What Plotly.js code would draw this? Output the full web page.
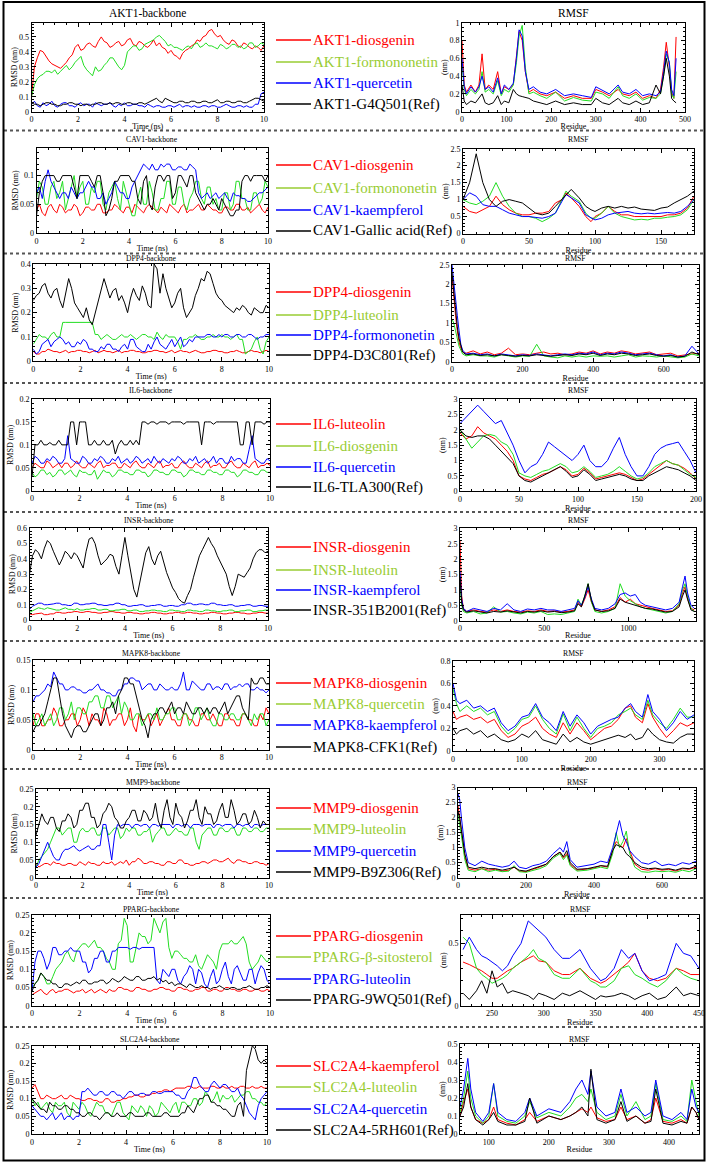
<!DOCTYPE html>
<html>
<head>
<meta charset="utf-8">
<script src="https://cdn.plot.ly/plotly-3.0.1.min.js"></script>
<style>
  html, body { margin: 0; padding: 0; background: #fff; }
  #chart { width: 709px; height: 1164px; }
</style>
</head>
<body>
<div id="chart"></div>
<script>
// ---- simulation time grid (ns), one sample every 0.125 ns ----
const time = Array.from({ length: 81 }, (_, i) => i * 0.125);

// ================= AKT1 =================
const akt1Ligands = ['AKT1-diosgenin', 'AKT1-formononetin', 'AKT1-quercetin', 'AKT1-G4Q501(Ref)'];
const akt1RmsdDiosgenin = [0.10,0.30,0.36,0.41,0.40,0.37,0.34,0.32,0.31,0.30, 0.29,0.31,0.33,0.36,0.38,0.43,0.45,0.41,0.42,0.45, 0.46,0.44,0.43,0.47,0.50,0.47,0.46,0.43,0.44,0.46, 0.47,0.44,0.45,0.48,0.49,0.45,0.44,0.47,0.46,0.44, 0.43,0.45,0.48,0.44,0.46,0.43,0.42,0.39,0.41,0.38, 0.37,0.35,0.39,0.41,0.42,0.44,0.45,0.48,0.47,0.50, 0.51,0.54,0.55,0.52,0.50,0.51,0.48,0.46,0.45,0.48, 0.47,0.44,0.43,0.46,0.45,0.43,0.42,0.44,0.43,0.41, 0.44];
const akt1RmsdFormononetin = [0.10,0.18,0.22,0.24,0.25,0.27,0.27,0.26,0.28,0.25, 0.27,0.29,0.31,0.28,0.30,0.33,0.35,0.37,0.31,0.28, 0.26,0.24,0.30,0.27,0.28,0.31,0.33,0.36,0.36,0.33, 0.30,0.28,0.31,0.40,0.42,0.44,0.44,0.41,0.42,0.45, 0.46,0.47,0.48,0.50,0.51,0.49,0.47,0.44,0.45,0.43, 0.43,0.42,0.41,0.43,0.44,0.42,0.45,0.46,0.43,0.44, 0.46,0.44,0.44,0.43,0.42,0.45,0.44,0.42,0.43,0.45, 0.45,0.43,0.44,0.42,0.43,0.46,0.46,0.43,0.44,0.46, 0.45];
const akt1RmsdQuercetin = [0.05,0.07,0.04,0.03,0.06,0.04,0.05,0.07,0.04,0.03, 0.05,0.06,0.06,0.04,0.04,0.03,0.05,0.06,0.04,0.05, 0.05,0.03,0.06,0.05,0.04,0.05,0.05,0.06,0.04,0.03, 0.05,0.04,0.06,0.04,0.04,0.05,0.05,0.04,0.04,0.03, 0.05,0.04,0.03,0.04,0.04,0.03,0.03,0.04,0.04,0.03, 0.04,0.05,0.03,0.04,0.04,0.03,0.04,0.03,0.03,0.04, 0.04,0.03,0.04,0.04,0.03,0.03,0.04,0.05,0.04,0.03, 0.03,0.04,0.04,0.03,0.04,0.03,0.03,0.05,0.05,0.12, 0.13];
const akt1RmsdRef = [0.06,0.05,0.05,0.04,0.05,0.06,0.06,0.05,0.05,0.04, 0.04,0.05,0.05,0.06,0.06,0.05,0.05,0.04,0.05,0.05, 0.04,0.05,0.05,0.06,0.06,0.05,0.05,0.06,0.05,0.06, 0.06,0.05,0.05,0.06,0.06,0.05,0.05,0.06,0.06,0.05, 0.06,0.07,0.08,0.09,0.07,0.06,0.09,0.08,0.07,0.06, 0.06,0.07,0.07,0.06,0.06,0.07,0.07,0.06,0.06,0.07, 0.07,0.06,0.06,0.07,0.08,0.06,0.06,0.07,0.07,0.06, 0.06,0.07,0.07,0.06,0.06,0.07,0.08,0.09,0.09,0.08, 0.07];
const akt1Residue = [0,5,10,20,30,38,45,52,60,70,80,88,95,105,115,122,128,135,142,150,160,175,190,210,230,250,270,290,300,315,330,350,360,375,390,405,420,435,445,452,458,465,470,475,480];
const akt1RmsfDiosgenin = [0.80,0.30,0.22,0.30,0.22,0.30,0.65,0.25,0.30,0.25,0.45,0.20,0.28,0.25,0.30,0.60,0.90,0.80,0.45,0.22,0.25,0.20,0.18,0.22,0.15,0.18,0.15,0.15,0.25,0.22,0.18,0.25,0.20,0.18,0.22,0.15,0.18,0.15,0.25,0.50,0.78,0.50,0.22,0.15,0.84];
const akt1RmsfFormononetin = [0.55,0.25,0.18,0.25,0.20,0.25,0.45,0.22,0.25,0.20,0.35,0.18,0.25,0.22,0.30,0.55,0.85,0.97,0.50,0.20,0.22,0.18,0.15,0.22,0.12,0.16,0.13,0.12,0.22,0.20,0.15,0.28,0.18,0.15,0.20,0.13,0.16,0.15,0.20,0.40,0.65,0.55,0.20,0.15,0.45];
const akt1RmsfQuercetin = [0.60,0.28,0.20,0.28,0.22,0.28,0.40,0.25,0.28,0.22,0.38,0.20,0.30,0.25,0.32,0.60,0.92,0.85,0.45,0.25,0.28,0.22,0.20,0.25,0.18,0.20,0.18,0.16,0.28,0.24,0.20,0.30,0.22,0.20,0.25,0.18,0.20,0.18,0.22,0.45,0.68,0.55,0.25,0.18,0.60];
const akt1RmsfRef = [0.30,0.12,0.08,0.12,0.10,0.15,0.20,0.10,0.08,0.10,0.18,0.08,0.12,0.10,0.25,0.20,0.18,0.17,0.16,0.15,0.12,0.10,0.08,0.12,0.08,0.10,0.08,0.08,0.15,0.10,0.08,0.15,0.10,0.08,0.12,0.08,0.10,0.30,0.20,0.40,0.60,0.40,0.15,0.12,0.10];

// ================= CAV1 =================
const cav1Ligands = ['CAV1-diosgenin', 'CAV1-formononetin', 'CAV1-kaempferol', 'CAV1-Gallic acid(Ref)'];
const cav1RmsdDiosgenin = [0.04,0.05,0.035,0.03,0.045,0.05,0.04,0.035,0.05,0.045, 0.035,0.04,0.04,0.05,0.045,0.03,0.035,0.045,0.045,0.04, 0.04,0.05,0.05,0.035,0.035,0.04,0.04,0.05,0.045,0.04, 0.035,0.045,0.045,0.035,0.05,0.045,0.04,0.035,0.045,0.05, 0.045,0.04,0.035,0.045,0.04,0.035,0.05,0.045,0.04,0.035, 0.045,0.05,0.035,0.04,0.04,0.045,0.05,0.04,0.04,0.05, 0.045,0.04,0.04,0.035,0.035,0.045,0.045,0.04,0.04,0.05, 0.05,0.04,0.04,0.045,0.035,0.04,0.045,0.05,0.04,0.035, 0.045];
const cav1RmsdFormononetin = [0.06,0.09,0.08,0.05,0.05,0.08,0.09,0.06,0.07,0.09, 0.04,0.06,0.08,0.10,0.06,0.08,0.09,0.05,0.05,0.08, 0.07,0.09,0.09,0.05,0.04,0.07,0.08,0.09,0.06,0.04, 0.09,0.07,0.05,0.03,0.03,0.06,0.08,0.05,0.05,0.09, 0.07,0.04,0.04,0.06,0.06,0.09,0.09,0.05,0.05,0.08, 0.08,0.05,0.04,0.06,0.07,0.09,0.09,0.06,0.05,0.08, 0.08,0.05,0.06,0.04,0.04,0.07,0.07,0.04,0.05,0.09, 0.09,0.06,0.06,0.04,0.04,0.07,0.07,0.05,0.06,0.09, 0.08];
const cav1RmsdKaempferol = [0.07,0.08,0.06,0.09,0.11,0.09,0.08,0.07,0.06,0.07, 0.07,0.06,0.08,0.07,0.06,0.07,0.07,0.08,0.09,0.08, 0.08,0.06,0.06,0.07,0.05,0.06,0.07,0.09,0.08,0.07, 0.07,0.06,0.06,0.08,0.09,0.10,0.11,0.12,0.115,0.11, 0.12,0.11,0.11,0.12,0.115,0.12,0.12,0.11,0.11,0.115, 0.115,0.11,0.11,0.12,0.115,0.11,0.07,0.06,0.065,0.07, 0.06,0.065,0.07,0.06,0.065,0.07,0.06,0.055,0.07,0.065, 0.065,0.06,0.06,0.055,0.055,0.06,0.065,0.07,0.07,0.075, 0.08];
const cav1RmsdRef = [0.03,0.07,0.09,0.10,0.10,0.10,0.10,0.09,0.09,0.10, 0.10,0.10,0.10,0.08,0.06,0.10,0.10,0.10,0.10,0.09, 0.08,0.10,0.10,0.07,0.03,0.04,0.06,0.09,0.09,0.10, 0.10,0.10,0.10,0.09,0.09,0.06,0.05,0.09,0.10,0.05, 0.04,0.08,0.10,0.10,0.09,0.10,0.10,0.06,0.07,0.10, 0.10,0.09,0.08,0.10,0.10,0.07,0.06,0.05,0.04,0.05, 0.05,0.06,0.05,0.04,0.06,0.05,0.04,0.03,0.03,0.04, 0.04,0.09,0.10,0.10,0.09,0.10,0.10,0.10,0.10,0.09, 0.10];
const cav1Residue = [0,5,10,15,20,25,30,35,40,45,50,55,60,65,70,75,78,82,88,93,97,100,105,110,115,120,125,130,135,140,145,150,155,160,165,170,175];
const cav1RmsfDiosgenin = [0.80,0.65,0.60,0.70,0.80,1.10,0.85,0.70,0.60,0.55,0.55,0.60,0.60,0.65,0.90,1.00,1.20,1.05,0.80,0.50,0.35,0.50,0.60,0.80,0.65,0.55,0.55,0.50,0.50,0.52,0.50,0.50,0.55,0.55,0.60,0.75,1.10];
const cav1RmsfFormononetin = [1.00,0.90,0.85,0.95,1.10,1.50,1.10,0.80,0.60,0.50,0.50,0.45,0.35,0.45,0.60,1.00,1.25,1.10,0.95,0.60,0.45,0.45,0.60,0.80,0.60,0.50,0.45,0.40,0.42,0.40,0.45,0.45,0.48,0.50,0.55,0.70,1.00];
const cav1RmsfKaempferol = [1.00,1.20,1.10,0.85,0.80,0.80,0.70,0.60,0.55,0.50,0.50,0.48,0.45,0.50,0.60,0.95,1.15,1.05,0.90,0.55,0.45,0.40,0.45,0.55,0.60,0.62,0.65,0.60,0.58,0.60,0.58,0.60,0.62,0.60,0.65,0.80,1.00];
const cav1RmsfRef = [1.00,1.50,2.35,1.50,1.00,0.80,0.95,1.00,0.95,0.90,0.75,0.60,0.55,0.60,0.80,1.00,1.15,1.30,1.05,0.80,0.70,0.65,0.75,0.80,0.75,0.80,0.75,0.78,0.72,0.70,0.68,0.75,0.78,0.90,1.00,1.10,1.25];

// ================= DPP4 =================
const dpp4Ligands = ['DPP4-diosgenin', 'DPP4-luteolin', 'DPP4-formononetin', 'DPP4-D3C801(Ref)'];
const dpp4RmsdDiosgenin = [0.04,0.03,0.03,0.04,0.04,0.05,0.045,0.04,0.04,0.035, 0.04,0.045,0.035,0.04,0.04,0.045,0.045,0.04,0.04,0.035, 0.04,0.045,0.035,0.04,0.045,0.04,0.04,0.035,0.04,0.045, 0.035,0.04,0.04,0.045,0.045,0.04,0.04,0.035,0.035,0.04, 0.04,0.045,0.045,0.04,0.04,0.035,0.04,0.045,0.035,0.04, 0.045,0.04,0.04,0.035,0.04,0.045,0.04,0.035,0.035,0.04, 0.04,0.045,0.045,0.04,0.04,0.035,0.035,0.04,0.04,0.045, 0.04,0.035,0.035,0.04,0.045,0.04,0.04,0.035,0.04,0.045, 0.04];
const dpp4RmsdLuteolin = [0.07,0.09,0.11,0.10,0.10,0.09,0.11,0.12,0.10,0.10, 0.16,0.16,0.16,0.16,0.16,0.16,0.16,0.16,0.16,0.16, 0.16,0.11,0.11,0.09,0.10,0.11,0.10,0.09,0.09,0.10, 0.11,0.10,0.10,0.11,0.10,0.09,0.10,0.11,0.11,0.10, 0.10,0.09,0.12,0.10,0.09,0.11,0.10,0.10,0.10,0.08, 0.05,0.09,0.09,0.10,0.10,0.11,0.10,0.09,0.09,0.10, 0.10,0.11,0.10,0.10,0.11,0.10,0.10,0.09,0.10,0.11, 0.09,0.09,0.03,0.04,0.05,0.08,0.10,0.05,0.03,0.08, 0.10];
const dpp4RmsdFormononetin = [0.05,0.03,0.04,0.07,0.08,0.09,0.06,0.08,0.09,0.10, 0.09,0.07,0.08,0.06,0.06,0.08,0.07,0.09,0.08,0.05, 0.05,0.04,0.04,0.06,0.05,0.07,0.07,0.05,0.05,0.04, 0.06,0.07,0.05,0.09,0.09,0.06,0.05,0.04,0.04,0.07, 0.05,0.08,0.10,0.07,0.06,0.05,0.07,0.09,0.06,0.08, 0.10,0.06,0.07,0.09,0.08,0.10,0.10,0.10,0.10,0.11, 0.11,0.10,0.10,0.11,0.10,0.11,0.11,0.10,0.10,0.11, 0.11,0.10,0.10,0.11,0.11,0.10,0.09,0.10,0.10,0.11, 0.11];
const dpp4RmsdRef = [0.25,0.27,0.28,0.31,0.32,0.28,0.26,0.29,0.30,0.25, 0.22,0.28,0.34,0.30,0.24,0.22,0.20,0.18,0.22,0.17, 0.15,0.20,0.24,0.30,0.34,0.30,0.26,0.29,0.30,0.25, 0.27,0.24,0.20,0.26,0.30,0.27,0.25,0.31,0.28,0.23, 0.22,0.40,0.38,0.28,0.36,0.30,0.26,0.22,0.24,0.28, 0.30,0.22,0.18,0.20,0.22,0.27,0.30,0.34,0.33,0.37, 0.36,0.32,0.28,0.26,0.25,0.23,0.22,0.21,0.20,0.22, 0.21,0.23,0.22,0.20,0.19,0.22,0.21,0.20,0.20,0.23, 0.22];
const dpp4Residue = [0,5,10,15,20,25,30,40,60,80,100,120,140,160,180,200,220,240,260,280,300,320,340,360,380,400,420,440,460,480,500,520,540,560,580,600,620,640,660,680,700];
const dpp4RmsfDiosgenin = [2.20,1.60,1.20,0.80,0.50,0.35,0.25,0.22,0.28,0.20,0.25,0.18,0.22,0.35,0.18,0.20,0.18,0.22,0.25,0.20,0.22,0.18,0.20,0.25,0.22,0.28,0.20,0.25,0.22,0.28,0.25,0.20,0.22,0.25,0.18,0.20,0.22,0.15,0.18,0.20,0.22];
const dpp4RmsfLuteolin = [1.10,1.00,0.80,0.60,0.40,0.30,0.20,0.15,0.18,0.15,0.15,0.12,0.18,0.15,0.12,0.15,0.14,0.45,0.15,0.12,0.10,0.15,0.12,0.15,0.12,0.15,0.14,0.15,0.12,0.15,0.18,0.12,0.15,0.14,0.12,0.15,0.12,0.10,0.12,0.20,0.15];
const dpp4RmsfFormononetin = [2.50,2.00,1.50,1.20,0.80,0.45,0.30,0.20,0.22,0.18,0.20,0.15,0.20,0.18,0.15,0.18,0.16,0.20,0.18,0.15,0.18,0.20,0.18,0.22,0.20,0.25,0.18,0.22,0.20,0.25,0.22,0.18,0.20,0.22,0.18,0.15,0.18,0.12,0.15,0.40,0.20];
const dpp4RmsfRef = [2.30,1.80,1.30,0.90,0.60,0.40,0.25,0.18,0.20,0.16,0.18,0.15,0.18,0.16,0.14,0.16,0.15,0.18,0.16,0.14,0.16,0.18,0.16,0.20,0.18,0.22,0.16,0.20,0.18,0.22,0.20,0.16,0.18,0.20,0.16,0.14,0.16,0.12,0.14,0.25,0.18];

// ================= IL6 =================
const il6Ligands = ['IL6-luteolin', 'IL6-diosgenin', 'IL6-quercetin', 'IL6-TLA300(Ref)'];
const il6RmsdLuteolin = [0.05,0.06,0.055,0.05,0.05,0.065,0.06,0.05,0.055,0.06, 0.05,0.06,0.06,0.05,0.055,0.065,0.055,0.05,0.05,0.06, 0.055,0.05,0.06,0.065,0.05,0.055,0.055,0.06,0.06,0.05, 0.05,0.06,0.055,0.05,0.06,0.065,0.055,0.05,0.05,0.06, 0.055,0.05,0.06,0.065,0.05,0.055,0.055,0.06,0.05,0.05, 0.06,0.065,0.055,0.05,0.05,0.06,0.055,0.05,0.06,0.065, 0.05,0.055,0.055,0.06,0.05,0.05,0.06,0.065,0.055,0.05, 0.05,0.06,0.055,0.05,0.06,0.065,0.05,0.055,0.055,0.06, 0.055];
const il6RmsdDiosgenin = [0.04,0.03,0.035,0.045,0.045,0.035,0.04,0.03,0.035,0.045, 0.045,0.035,0.04,0.045,0.035,0.03,0.045,0.04,0.04,0.035, 0.035,0.045,0.025,0.035,0.045,0.04,0.04,0.03,0.035,0.045, 0.045,0.04,0.04,0.035,0.035,0.045,0.045,0.04,0.04,0.03, 0.035,0.045,0.045,0.04,0.04,0.035,0.035,0.045,0.045,0.04, 0.04,0.03,0.035,0.045,0.045,0.04,0.04,0.035,0.035,0.045, 0.045,0.04,0.04,0.035,0.035,0.045,0.045,0.04,0.04,0.03, 0.035,0.045,0.045,0.04,0.04,0.035,0.035,0.045,0.045,0.04, 0.04];
const il6RmsdQuercetin = [0.06,0.075,0.07,0.06,0.06,0.07,0.065,0.075,0.07,0.06, 0.06,0.07,0.12,0.07,0.065,0.06,0.06,0.075,0.07,0.06, 0.06,0.07,0.065,0.075,0.07,0.06,0.06,0.07,0.065,0.075, 0.06,0.065,0.07,0.06,0.065,0.075,0.07,0.06,0.065,0.07, 0.06,0.075,0.065,0.06,0.07,0.065,0.06,0.07,0.065,0.075, 0.07,0.06,0.06,0.07,0.065,0.075,0.06,0.065,0.07,0.06, 0.065,0.075,0.06,0.07,0.07,0.06,0.06,0.075,0.065,0.07, 0.07,0.06,0.06,0.09,0.12,0.07,0.065,0.06,0.06,0.07, 0.065];
const il6RmsdRef = [0.03,0.10,0.10,0.11,0.10,0.10,0.105,0.10,0.10,0.11, 0.10,0.10,0.10,0.15,0.15,0.10,0.15,0.15,0.15,0.10, 0.10,0.11,0.10,0.10,0.11,0.10,0.10,0.11,0.08,0.10, 0.11,0.10,0.10,0.11,0.10,0.11,0.10,0.15,0.15,0.145, 0.15,0.15,0.145,0.15,0.15,0.15,0.145,0.15,0.15,0.15, 0.15,0.145,0.15,0.15,0.15,0.15,0.15,0.10,0.15,0.15, 0.15,0.145,0.15,0.15,0.15,0.15,0.15,0.15,0.15,0.15, 0.10,0.10,0.15,0.15,0.10,0.15,0.15,0.15,0.145,0.15, 0.15];
const il6Residue = [0,5,10,15,20,25,30,35,40,45,50,55,60,65,70,75,80,85,90,95,100,105,110,115,120,125,130,135,140,145,150,155,160,165,170,175,180,185,190,195,200];
const il6RmsfLuteolin = [1.90,1.70,1.80,2.10,1.90,1.80,1.70,1.50,1.30,1.00,0.50,0.40,0.35,0.45,0.55,0.60,0.70,0.80,0.70,0.50,0.55,0.75,0.60,0.40,0.45,0.50,0.55,0.60,0.55,0.45,0.35,0.40,0.55,0.70,0.85,1.00,0.90,0.85,0.75,0.60,0.40];
const il6RmsfDiosgenin = [2.00,1.70,1.40,1.60,1.80,1.85,1.80,1.60,1.50,1.20,0.60,0.50,0.45,0.55,0.65,0.70,0.80,0.90,0.80,0.60,0.65,0.80,0.65,0.45,0.50,0.55,0.65,0.80,0.65,0.50,0.40,0.45,0.60,0.80,0.90,1.00,0.90,0.85,0.70,0.55,0.45];
const il6RmsfQuercetin = [2.20,2.40,2.60,2.80,2.60,2.40,2.20,2.30,1.90,1.50,1.00,0.60,0.80,0.90,1.20,1.60,1.45,1.30,1.15,1.00,1.20,1.50,1.00,0.80,0.80,1.00,1.40,1.75,1.20,0.80,0.50,0.50,0.80,1.20,1.40,1.50,1.55,1.60,1.30,1.00,0.60];
const il6RmsfRef = [2.00,1.80,1.75,1.80,1.80,1.70,1.50,1.30,1.10,0.90,0.50,0.35,0.30,0.40,0.50,0.60,0.70,0.80,0.65,0.45,0.50,0.70,0.55,0.35,0.40,0.45,0.50,0.55,0.50,0.40,0.35,0.35,0.50,0.60,0.70,0.80,0.75,0.70,0.60,0.50,0.35];

// ================= INSR =================
const insrLigands = ['INSR-diosgenin', 'INSR-luteolin', 'INSR-kaempferol', 'INSR-351B2001(Ref)'];
const insrRmsdDiosgenin = [0.04,0.035,0.04,0.045,0.045,0.035,0.035,0.04,0.04,0.05, 0.05,0.045,0.045,0.05,0.05,0.055,0.055,0.05,0.05,0.055, 0.055,0.05,0.05,0.045,0.045,0.05,0.05,0.055,0.055,0.05, 0.05,0.045,0.045,0.05,0.05,0.045,0.045,0.04,0.04,0.045, 0.045,0.05,0.05,0.045,0.045,0.04,0.04,0.045,0.045,0.05, 0.05,0.045,0.045,0.05,0.05,0.045,0.045,0.04,0.04,0.045, 0.045,0.05,0.05,0.045,0.045,0.04,0.04,0.045,0.045,0.05, 0.05,0.045,0.045,0.04,0.04,0.045,0.045,0.05,0.05,0.045, 0.045];
const insrRmsdLuteolin = [0.05,0.06,0.07,0.08,0.075,0.07,0.08,0.075,0.07,0.065, 0.065,0.075,0.08,0.07,0.07,0.065,0.075,0.065,0.065,0.07, 0.07,0.075,0.075,0.065,0.065,0.07,0.07,0.06,0.06,0.065, 0.065,0.07,0.07,0.06,0.06,0.065,0.065,0.055,0.055,0.06, 0.06,0.065,0.065,0.06,0.06,0.055,0.055,0.065,0.065,0.06, 0.06,0.055,0.055,0.065,0.065,0.06,0.06,0.055,0.055,0.065, 0.065,0.06,0.06,0.055,0.055,0.06,0.06,0.065,0.065,0.055, 0.055,0.06,0.06,0.065,0.065,0.055,0.055,0.06,0.06,0.065, 0.065];
const insrRmsdKaempferol = [0.07,0.09,0.10,0.11,0.11,0.10,0.10,0.105,0.105,0.11, 0.11,0.10,0.10,0.095,0.095,0.11,0.11,0.10,0.10,0.105, 0.105,0.11,0.11,0.10,0.10,0.095,0.095,0.10,0.10,0.11, 0.11,0.10,0.10,0.09,0.09,0.095,0.095,0.10,0.10,0.09, 0.09,0.095,0.095,0.10,0.10,0.09,0.09,0.095,0.095,0.09, 0.09,0.10,0.10,0.11,0.11,0.10,0.10,0.105,0.105,0.10, 0.10,0.11,0.11,0.10,0.10,0.095,0.095,0.10,0.10,0.09, 0.09,0.095,0.095,0.10,0.10,0.09,0.09,0.095,0.095,0.09, 0.09];
const insrRmsdRef = [0.30,0.42,0.46,0.44,0.40,0.47,0.52,0.50,0.45,0.40, 0.36,0.40,0.45,0.43,0.40,0.44,0.42,0.38,0.34,0.45, 0.53,0.54,0.50,0.42,0.36,0.38,0.40,0.43,0.42,0.35, 0.30,0.42,0.54,0.42,0.30,0.20,0.15,0.25,0.35,0.44, 0.48,0.40,0.36,0.42,0.45,0.38,0.31,0.26,0.21,0.18, 0.14,0.12,0.11,0.16,0.20,0.28,0.35,0.42,0.46,0.50, 0.54,0.50,0.47,0.42,0.38,0.34,0.30,0.22,0.16,0.22, 0.30,0.29,0.28,0.31,0.34,0.40,0.44,0.46,0.46,0.44, 0.45];
const insrResidue = [0,10,20,40,80,120,160,200,240,280,320,360,400,440,480,520,560,600,640,680,700,720,740,760,780,800,840,880,920,950,980,1010,1040,1070,1100,1140,1180,1220,1260,1300,1320,1335,1350,1370,1390];
const insrRmsfDiosgenin = [2.60,0.80,0.40,0.30,0.35,0.30,0.28,0.35,0.30,0.35,0.30,0.28,0.32,0.30,0.35,0.30,0.32,0.28,0.30,0.35,0.60,0.45,0.70,1.00,0.60,0.35,0.30,0.35,0.45,0.75,0.60,0.70,0.55,0.50,0.45,0.40,0.35,0.30,0.32,0.50,0.90,1.10,0.70,0.40,0.35];
const insrRmsfLuteolin = [1.20,0.50,0.30,0.25,0.30,0.22,0.25,0.45,0.28,0.30,0.25,0.22,0.28,0.25,0.30,0.20,0.22,0.20,0.25,0.30,0.70,0.50,0.80,1.20,0.60,0.30,0.25,0.30,0.40,1.20,0.80,0.65,0.55,0.45,0.40,0.35,0.30,0.25,0.30,0.55,1.00,1.20,0.80,0.40,0.30];
const insrRmsfKaempferol = [1.60,0.70,0.40,0.30,0.40,0.35,0.30,0.40,0.35,0.55,0.35,0.30,0.38,0.35,0.40,0.35,0.35,0.30,0.35,0.40,0.65,0.50,0.75,1.10,0.70,0.40,0.35,0.40,0.55,0.85,0.90,0.80,0.85,0.60,0.50,0.45,0.40,0.35,0.40,0.60,1.10,1.45,0.90,0.50,0.40];
const insrRmsfRef = [1.40,0.60,0.35,0.28,0.32,0.28,0.25,0.30,0.28,0.32,0.28,0.25,0.30,0.28,0.32,0.28,0.30,0.26,0.28,0.32,0.55,0.45,0.80,1.20,0.65,0.35,0.30,0.32,0.40,0.70,0.60,0.55,0.50,0.45,0.40,0.38,0.32,0.28,0.30,0.45,0.80,1.00,0.70,0.35,0.30];

// ================= MAPK8 =================
const mapk8Ligands = ['MAPK8-diosgenin', 'MAPK8-quercetin', 'MAPK8-kaempferol', 'MAPK8-CFK1(Ref)'];
const mapk8RmsdDiosgenin = [0.04,0.06,0.06,0.04,0.04,0.05,0.05,0.07,0.06,0.04, 0.04,0.05,0.05,0.06,0.06,0.04,0.05,0.07,0.06,0.04, 0.06,0.05,0.05,0.04,0.07,0.06,0.04,0.05,0.05,0.06, 0.06,0.04,0.05,0.07,0.04,0.03,0.06,0.05,0.05,0.06, 0.04,0.05,0.06,0.04,0.05,0.06,0.07,0.05,0.05,0.04, 0.04,0.06,0.06,0.05,0.05,0.04,0.04,0.06,0.06,0.05, 0.05,0.06,0.05,0.04,0.04,0.06,0.06,0.05,0.05,0.04, 0.04,0.06,0.06,0.05,0.05,0.04,0.04,0.06,0.05,0.07, 0.06];
const mapk8RmsdQuercetin = [0.06,0.04,0.05,0.06,0.04,0.05,0.06,0.04,0.05,0.07, 0.07,0.05,0.06,0.08,0.05,0.07,0.07,0.06,0.06,0.08, 0.08,0.09,0.09,0.07,0.07,0.09,0.09,0.07,0.08,0.09, 0.06,0.08,0.07,0.05,0.05,0.06,0.06,0.04,0.05,0.06, 0.06,0.05,0.07,0.05,0.05,0.06,0.06,0.07,0.07,0.05, 0.05,0.06,0.06,0.04,0.05,0.07,0.07,0.05,0.06,0.07, 0.05,0.04,0.04,0.06,0.06,0.05,0.05,0.06,0.06,0.05, 0.05,0.06,0.06,0.05,0.04,0.06,0.05,0.06,0.06,0.04, 0.05];
const mapk8RmsdKaempferol = [0.08,0.09,0.09,0.095,0.10,0.11,0.105,0.13,0.12,0.11, 0.11,0.10,0.10,0.105,0.105,0.10,0.10,0.095,0.095,0.10, 0.10,0.105,0.11,0.10,0.10,0.095,0.095,0.09,0.09,0.10, 0.10,0.11,0.11,0.12,0.12,0.115,0.115,0.10,0.105,0.11, 0.11,0.10,0.10,0.11,0.105,0.10,0.10,0.105,0.10,0.10, 0.11,0.13,0.10,0.10,0.115,0.11,0.105,0.10,0.10,0.11, 0.11,0.10,0.105,0.105,0.10,0.11,0.11,0.10,0.105,0.105, 0.11,0.105,0.11,0.11,0.10,0.10,0.105,0.10,0.10,0.095, 0.10];
const mapk8RmsdRef = [0.03,0.04,0.04,0.05,0.06,0.08,0.10,0.12,0.12,0.09, 0.06,0.04,0.03,0.02,0.035,0.04,0.04,0.03,0.03,0.04, 0.05,0.06,0.06,0.04,0.05,0.07,0.07,0.08,0.06,0.09, 0.10,0.12,0.12,0.11,0.11,0.09,0.07,0.05,0.04,0.02, 0.05,0.06,0.06,0.07,0.07,0.06,0.07,0.08,0.06,0.07, 0.07,0.06,0.08,0.07,0.06,0.06,0.07,0.07,0.06,0.07, 0.06,0.07,0.07,0.06,0.07,0.08,0.06,0.07,0.08,0.09, 0.09,0.07,0.06,0.05,0.12,0.11,0.11,0.12,0.12,0.11, 0.11];
const mapk8Residue = [0,5,10,20,30,40,50,60,70,80,90,100,110,120,130,140,150,160,170,180,190,200,210,220,230,240,250,258,265,275,283,290,300,310,320,330,340,350];
const mapk8RmsfDiosgenin = [0.35,0.28,0.30,0.32,0.28,0.30,0.25,0.28,0.18,0.12,0.15,0.22,0.25,0.30,0.20,0.15,0.12,0.25,0.15,0.25,0.18,0.10,0.15,0.20,0.22,0.28,0.38,0.40,0.30,0.25,0.42,0.30,0.20,0.12,0.18,0.25,0.22,0.25];
const mapk8RmsfQuercetin = [0.55,0.42,0.35,0.40,0.35,0.38,0.32,0.35,0.22,0.15,0.20,0.28,0.30,0.40,0.28,0.20,0.15,0.33,0.18,0.30,0.20,0.12,0.20,0.22,0.25,0.32,0.35,0.38,0.32,0.28,0.45,0.32,0.25,0.20,0.28,0.38,0.30,0.30];
const mapk8RmsfKaempferol = [0.60,0.45,0.42,0.45,0.38,0.40,0.35,0.38,0.25,0.18,0.22,0.30,0.32,0.42,0.30,0.25,0.18,0.35,0.22,0.32,0.25,0.15,0.22,0.25,0.28,0.30,0.38,0.42,0.35,0.30,0.50,0.35,0.28,0.18,0.25,0.35,0.28,0.32];
const mapk8RmsfRef = [0.20,0.15,0.18,0.20,0.15,0.18,0.12,0.15,0.10,0.08,0.10,0.15,0.12,0.18,0.10,0.08,0.06,0.15,0.08,0.12,0.08,0.06,0.08,0.10,0.12,0.14,0.12,0.15,0.10,0.12,0.20,0.15,0.10,0.08,0.07,0.12,0.15,0.15];

// ================= MMP9 =================
const mmp9Ligands = ['MMP9-diosgenin', 'MMP9-luteolin', 'MMP9-quercetin', 'MMP9-B9Z306(Ref)'];
const mmp9RmsdDiosgenin = [0.04,0.03,0.035,0.04,0.04,0.035,0.045,0.04,0.04,0.035, 0.035,0.04,0.04,0.035,0.035,0.045,0.04,0.035,0.045,0.04, 0.04,0.035,0.035,0.045,0.04,0.04,0.045,0.035,0.04,0.045, 0.04,0.05,0.035,0.045,0.045,0.055,0.05,0.04,0.04,0.045, 0.045,0.04,0.04,0.035,0.035,0.045,0.045,0.04,0.04,0.05, 0.05,0.04,0.04,0.035,0.035,0.04,0.04,0.045,0.045,0.04, 0.045,0.05,0.05,0.045,0.045,0.05,0.055,0.045,0.04,0.05, 0.05,0.045,0.045,0.04,0.04,0.045,0.045,0.04,0.04,0.035, 0.04];
const mmp9RmsdLuteolin = [0.03,0.05,0.06,0.07,0.08,0.10,0.12,0.14,0.14,0.12, 0.13,0.14,0.14,0.10,0.10,0.13,0.14,0.13,0.13,0.14, 0.14,0.12,0.12,0.14,0.14,0.12,0.13,0.14,0.14,0.11, 0.12,0.14,0.13,0.14,0.14,0.12,0.12,0.13,0.13,0.14, 0.10,0.12,0.13,0.14,0.14,0.12,0.12,0.13,0.14,0.13, 0.13,0.12,0.12,0.14,0.14,0.10,0.08,0.12,0.13,0.14, 0.14,0.12,0.12,0.14,0.14,0.13,0.13,0.14,0.14,0.12, 0.12,0.14,0.14,0.13,0.13,0.14,0.14,0.13,0.13,0.14, 0.14];
const mmp9RmsdQuercetin = [0.03,0.04,0.06,0.08,0.10,0.08,0.06,0.05,0.05,0.07, 0.08,0.08,0.085,0.09,0.08,0.075,0.08,0.085,0.09,0.08, 0.08,0.09,0.09,0.15,0.15,0.10,0.05,0.12,0.15,0.145, 0.15,0.15,0.15,0.14,0.15,0.15,0.145,0.15,0.15,0.14, 0.15,0.15,0.145,0.15,0.15,0.15,0.15,0.14,0.15,0.15, 0.145,0.15,0.15,0.14,0.15,0.15,0.15,0.145,0.15,0.15, 0.15,0.14,0.15,0.15,0.145,0.15,0.15,0.15,0.14,0.15, 0.15,0.145,0.15,0.15,0.14,0.15,0.15,0.145,0.15,0.15, 0.15];
const mmp9RmsdRef = [0.12,0.15,0.18,0.16,0.15,0.17,0.17,0.14,0.13,0.16, 0.16,0.18,0.17,0.14,0.15,0.19,0.19,0.21,0.21,0.17, 0.17,0.14,0.15,0.18,0.19,0.21,0.20,0.17,0.16,0.14, 0.14,0.16,0.17,0.19,0.19,0.16,0.16,0.19,0.18,0.16, 0.17,0.21,0.16,0.14,0.19,0.22,0.17,0.15,0.21,0.18, 0.17,0.14,0.16,0.19,0.19,0.22,0.17,0.15,0.20,0.18, 0.18,0.15,0.16,0.19,0.21,0.17,0.17,0.22,0.19,0.15, 0.16,0.18,0.18,0.15,0.16,0.19,0.17,0.14,0.16,0.15, 0.15];
const mmp9Residue = [0,5,10,20,30,50,70,90,110,130,150,165,180,200,220,240,260,280,300,310,320,330,350,380,400,420,440,455,465,475,485,495,505,520,540,560,580,600,620,640,660,680,700];
const mmp9RmsfDiosgenin = [2.40,2.00,1.50,0.70,0.30,0.25,0.30,0.25,0.28,0.22,0.25,0.35,0.22,0.20,0.28,0.35,0.45,0.70,0.85,0.65,0.80,0.45,0.25,0.28,0.32,0.40,0.35,0.90,1.20,1.10,1.00,1.30,0.90,0.45,0.28,0.25,0.30,0.25,0.28,0.22,0.30,0.28,0.35];
const mmp9RmsfLuteolin = [2.10,1.80,1.40,0.60,0.25,0.20,0.30,0.20,0.25,0.20,0.22,0.40,0.20,0.18,0.25,0.30,0.40,0.65,0.80,0.60,0.75,0.40,0.22,0.25,0.30,0.35,0.30,0.80,1.50,1.00,1.20,1.55,0.80,0.35,0.20,0.18,0.22,0.20,0.22,0.18,0.25,0.20,0.30];
const mmp9RmsfQuercetin = [2.80,2.60,2.00,1.00,0.50,0.40,0.55,0.45,0.40,0.35,0.40,0.55,0.35,0.30,0.40,0.45,0.55,0.80,1.00,0.85,1.20,0.60,0.35,0.40,0.45,0.55,0.50,1.00,1.50,1.90,1.40,1.20,0.90,0.70,0.50,0.45,0.55,0.40,0.45,0.40,0.50,0.45,0.55];
const mmp9RmsfRef = [2.20,2.00,1.60,0.80,0.35,0.30,0.35,0.30,0.30,0.25,0.30,0.35,0.25,0.22,0.30,0.38,0.45,0.70,0.85,0.70,0.90,0.50,0.28,0.30,0.35,0.40,0.38,0.90,1.10,1.05,1.00,0.80,0.70,0.50,0.35,0.30,0.32,0.28,0.30,0.25,0.32,0.30,0.38];

// ================= PPARG =================
const ppargLigands = ['PPARG-diosgenin', 'PPARG-β-sitosterol', 'PPARG-luteolin', 'PPARG-9WQ501(Ref)'];
const ppargRmsdDiosgenin = [0.03,0.035,0.04,0.045,0.035,0.03,0.04,0.045,0.035,0.04, 0.04,0.045,0.045,0.04,0.035,0.04,0.04,0.045,0.035,0.04, 0.045,0.035,0.04,0.045,0.04,0.035,0.045,0.04,0.04,0.05, 0.05,0.045,0.045,0.04,0.04,0.05,0.05,0.045,0.045,0.04, 0.04,0.045,0.045,0.05,0.05,0.045,0.045,0.04,0.04,0.05, 0.05,0.045,0.045,0.04,0.04,0.045,0.045,0.05,0.05,0.04, 0.04,0.045,0.045,0.04,0.04,0.05,0.05,0.045,0.045,0.04, 0.04,0.045,0.045,0.04,0.04,0.045,0.045,0.04,0.04,0.045, 0.04];
const ppargRmsdSitosterol = [0.05,0.06,0.07,0.09,0.08,0.06,0.06,0.08,0.10,0.11, 0.12,0.14,0.15,0.13,0.12,0.15,0.16,0.17,0.17,0.16, 0.17,0.18,0.16,0.16,0.15,0.13,0.12,0.10,0.10,0.17, 0.18,0.24,0.22,0.12,0.12,0.16,0.20,0.19,0.19,0.17, 0.18,0.24,0.22,0.20,0.23,0.24,0.16,0.13,0.15,0.15, 0.14,0.13,0.13,0.12,0.12,0.14,0.11,0.10,0.12,0.14, 0.13,0.12,0.10,0.15,0.17,0.17,0.17,0.18,0.17,0.17, 0.18,0.19,0.17,0.12,0.10,0.11,0.12,0.14,0.13,0.12, 0.13];
const ppargRmsdLuteolin = [0.04,0.12,0.15,0.15,0.13,0.10,0.12,0.16,0.16,0.14, 0.14,0.15,0.15,0.16,0.15,0.15,0.15,0.12,0.12,0.09, 0.10,0.13,0.13,0.15,0.15,0.12,0.12,0.15,0.15,0.16, 0.16,0.16,0.16,0.155,0.16,0.16,0.155,0.16,0.16,0.16, 0.16,0.16,0.07,0.06,0.10,0.09,0.08,0.10,0.10,0.07, 0.06,0.08,0.09,0.11,0.10,0.06,0.10,0.09,0.06,0.05, 0.08,0.10,0.06,0.07,0.10,0.12,0.08,0.06,0.10,0.11, 0.09,0.07,0.07,0.10,0.10,0.06,0.09,0.11,0.10,0.07, 0.06];
const ppargRmsdRef = [0.04,0.06,0.07,0.09,0.08,0.07,0.07,0.06,0.06,0.05, 0.05,0.06,0.06,0.055,0.06,0.065,0.06,0.07,0.07,0.06, 0.06,0.065,0.065,0.07,0.07,0.06,0.065,0.075,0.07,0.065, 0.07,0.08,0.075,0.07,0.07,0.08,0.08,0.07,0.07,0.075, 0.075,0.08,0.07,0.075,0.065,0.07,0.06,0.065,0.055,0.06, 0.06,0.055,0.05,0.06,0.055,0.05,0.05,0.055,0.05,0.05, 0.045,0.05,0.05,0.055,0.05,0.045,0.045,0.05,0.05,0.045, 0.045,0.05,0.05,0.055,0.05,0.045,0.045,0.05,0.05,0.055, 0.05];
const ppargResidue = [222,228,235,240,245,250,255,260,265,270,278,285,290,295,302,310,318,325,335,345,350,355,360,368,375,382,388,395,402,410,418,428,435,442,450];
const ppargRmsfDiosgenin = [0.35,0.33,0.30,0.28,0.25,0.22,0.22,0.25,0.28,0.30,0.35,0.38,0.40,0.36,0.35,0.28,0.25,0.25,0.30,0.22,0.20,0.18,0.20,0.25,0.30,0.35,0.42,0.28,0.22,0.20,0.22,0.30,0.28,0.25,0.25];
const ppargRmsfSitosterol = [0.55,0.50,0.30,0.25,0.22,0.18,0.20,0.22,0.25,0.30,0.35,0.40,0.45,0.38,0.35,0.25,0.22,0.22,0.30,0.20,0.18,0.15,0.15,0.20,0.30,0.32,0.25,0.22,0.18,0.15,0.20,0.30,0.25,0.22,0.20];
const ppargRmsfLuteolin = [0.45,0.55,0.45,0.40,0.38,0.35,0.32,0.28,0.32,0.40,0.50,0.68,0.64,0.60,0.55,0.45,0.38,0.38,0.45,0.30,0.25,0.20,0.22,0.30,0.45,0.38,0.42,0.28,0.20,0.22,0.25,0.50,0.42,0.40,0.30];
const ppargRmsfRef = [0.10,0.05,0.12,0.20,0.10,0.28,0.15,0.18,0.10,0.12,0.10,0.08,0.05,0.10,0.08,0.05,0.10,0.08,0.12,0.07,0.05,0.08,0.07,0.08,0.10,0.08,0.05,0.08,0.10,0.05,0.07,0.15,0.08,0.10,0.08];

// ================= SLC2A4 =================
const slc2a4Ligands = ['SLC2A4-kaempferol', 'SLC2A4-luteolin', 'SLC2A4-quercetin', 'SLC2A4-5RH601(Ref)'];
const slc2a4RmsdKaempferol = [0.13,0.14,0.12,0.10,0.10,0.11,0.105,0.10,0.10,0.105, 0.11,0.10,0.10,0.11,0.105,0.10,0.10,0.095,0.095,0.10, 0.10,0.095,0.095,0.09,0.09,0.10,0.10,0.09,0.09,0.095, 0.095,0.10,0.10,0.105,0.105,0.11,0.11,0.105,0.105,0.11, 0.11,0.115,0.115,0.12,0.12,0.125,0.125,0.12,0.125,0.13, 0.13,0.13,0.13,0.135,0.135,0.13,0.13,0.135,0.13,0.13, 0.13,0.135,0.135,0.13,0.13,0.135,0.13,0.13,0.135,0.13, 0.13,0.135,0.135,0.13,0.13,0.135,0.13,0.13,0.135,0.13, 0.13];
const slc2a4RmsdLuteolin = [0.10,0.08,0.09,0.07,0.08,0.09,0.07,0.06,0.09,0.08, 0.08,0.09,0.06,0.05,0.09,0.08,0.07,0.09,0.08,0.06, 0.05,0.07,0.09,0.08,0.08,0.06,0.06,0.05,0.07,0.09, 0.09,0.06,0.05,0.04,0.08,0.07,0.06,0.08,0.07,0.05, 0.08,0.07,0.05,0.06,0.09,0.08,0.07,0.06,0.08,0.09, 0.06,0.09,0.09,0.08,0.08,0.10,0.10,0.08,0.09,0.12, 0.11,0.09,0.10,0.12,0.09,0.11,0.10,0.10,0.11,0.09, 0.10,0.11,0.11,0.12,0.12,0.10,0.10,0.09,0.09,0.08, 0.09];
const slc2a4RmsdQuercetin = [0.08,0.07,0.06,0.05,0.05,0.04,0.05,0.06,0.04,0.05, 0.06,0.04,0.05,0.05,0.04,0.05,0.05,0.12,0.12,0.13, 0.12,0.11,0.11,0.12,0.12,0.11,0.11,0.12,0.12,0.11, 0.11,0.10,0.11,0.12,0.12,0.11,0.11,0.115,0.115,0.11, 0.11,0.12,0.12,0.115,0.115,0.12,0.12,0.12,0.12,0.11, 0.11,0.10,0.10,0.12,0.13,0.16,0.16,0.14,0.13,0.12, 0.12,0.14,0.15,0.14,0.13,0.14,0.14,0.13,0.12,0.12, 0.13,0.11,0.10,0.08,0.06,0.05,0.04,0.08,0.10,0.11, 0.12];
const slc2a4RmsdRef = [0.10,0.09,0.08,0.07,0.07,0.06,0.09,0.08,0.08,0.07, 0.07,0.08,0.08,0.07,0.07,0.06,0.06,0.05,0.05,0.06, 0.06,0.05,0.05,0.04,0.05,0.06,0.06,0.05,0.05,0.06, 0.05,0.05,0.05,0.06,0.06,0.05,0.05,0.05,0.05,0.06, 0.06,0.05,0.05,0.05,0.05,0.06,0.06,0.05,0.05,0.05, 0.05,0.06,0.06,0.08,0.07,0.06,0.08,0.10,0.10,0.11, 0.11,0.09,0.09,0.08,0.08,0.07,0.07,0.06,0.05,0.05, 0.08,0.09,0.05,0.18,0.22,0.25,0.24,0.21,0.20,0.21, 0.20];
const slc2a4Residue = [52,58,65,70,78,90,100,108,115,130,145,160,168,180,200,220,235,245,255,265,270,280,295,310,320,330,345,360,370,378,390,405,420,430,438,445,450];
const slc2a4RmsfKaempferol = [0.10,0.18,0.25,0.15,0.08,0.06,0.08,0.15,0.08,0.06,0.05,0.08,0.12,0.07,0.10,0.08,0.10,0.12,0.14,0.12,0.15,0.09,0.07,0.08,0.15,0.08,0.10,0.06,0.08,0.20,0.07,0.06,0.08,0.06,0.15,0.12,0.08];
const slc2a4RmsfLuteolin = [0.12,0.20,0.35,0.20,0.10,0.06,0.10,0.28,0.10,0.07,0.06,0.10,0.18,0.09,0.12,0.10,0.15,0.20,0.22,0.18,0.25,0.12,0.08,0.10,0.22,0.10,0.18,0.08,0.10,0.28,0.08,0.07,0.10,0.07,0.30,0.18,0.10];
const slc2a4RmsfQuercetin = [0.15,0.25,0.42,0.25,0.12,0.07,0.12,0.28,0.12,0.08,0.07,0.12,0.20,0.10,0.14,0.12,0.18,0.25,0.30,0.22,0.35,0.15,0.10,0.12,0.25,0.12,0.15,0.10,0.12,0.30,0.10,0.08,0.12,0.08,0.25,0.15,0.12];
const slc2a4RmsfRef = [0.10,0.15,0.28,0.15,0.08,0.05,0.08,0.12,0.07,0.05,0.05,0.07,0.20,0.06,0.10,0.08,0.10,0.12,0.15,0.10,0.36,0.08,0.06,0.08,0.18,0.07,0.10,0.06,0.07,0.25,0.06,0.05,0.07,0.06,0.15,0.12,0.08];

// ---- page geometry (px) ----
const W = 709, H = 1164;
const SERIF = '"Liberation Serif", "Times New Roman", serif';
const LINE_COLORS = ['#ff0000', '#22dd22', '#0000ff', '#000000'];
const TEXT_COLORS = ['#ff0000', '#99cc33', '#0000ff', '#000000'];
const px = x => x / W;
const py = y => 1 - y / H;

// one entry per row: data refs + axis ranges + pixel boxes [x0, x1, yTop, yBottom]
const rows = [
  { name: 'AKT1', ligands: akt1Ligands, rmsd: [akt1RmsdDiosgenin, akt1RmsdFormononetin, akt1RmsdQuercetin, akt1RmsdRef],
    residue: akt1Residue, rmsf: [akt1RmsfDiosgenin, akt1RmsfFormononetin, akt1RmsfQuercetin, akt1RmsfRef],
    rmsdY: [0, 0.595, 0.1], rmsfX: [0, 500, 100], rmsfY: [0, 1, 0.2],
    left: [31.5, 264, 22.7, 111.7], right: [462, 685, 22.7, 111.7], titleY: 13.5, titleSize: 11.5, legendY: [40, 62, 83, 104] },
  { name: 'CAV1', ligands: cav1Ligands, rmsd: [cav1RmsdDiosgenin, cav1RmsdFormononetin, cav1RmsdKaempferol, cav1RmsdRef],
    residue: cav1Residue, rmsf: [cav1RmsfDiosgenin, cav1RmsfFormononetin, cav1RmsfKaempferol, cav1RmsfRef],
    rmsdY: [0, 0.148, 0.05], rmsfX: [0, 175, 50], rmsfY: [0, 2.5, 0.5],
    left: [36.5, 268, 148, 233], right: [463, 694, 148.7, 233.5], titleY: 139, titleSize: 7.7, legendY: [165, 188, 210, 231] },
  { name: 'DPP4', ligands: dpp4Ligands, rmsd: [dpp4RmsdDiosgenin, dpp4RmsdLuteolin, dpp4RmsdFormononetin, dpp4RmsdRef],
    residue: dpp4Residue, rmsf: [dpp4RmsfDiosgenin, dpp4RmsfLuteolin, dpp4RmsfFormononetin, dpp4RmsfRef],
    rmsdY: [0, 0.4, 0.1], rmsfX: [0, 700, 200], rmsfY: [0, 2.5, 0.5], noRmsfTitle: true,
    left: [33.3, 269, 264, 361.3], right: [452, 699, 265, 361.7], titleY: 258.8, titleSize: 7.7, legendY: [292, 315, 335, 355] },
  { name: 'IL6', ligands: il6Ligands, rmsd: [il6RmsdLuteolin, il6RmsdDiosgenin, il6RmsdQuercetin, il6RmsdRef],
    residue: il6Residue, rmsf: [il6RmsfLuteolin, il6RmsfDiosgenin, il6RmsfQuercetin, il6RmsfRef],
    rmsdY: [0, 0.2, 0.05], rmsfX: [0, 200, 50], rmsfY: [0, 3, 0.5],
    left: [32, 270, 399, 490.7], right: [460, 696, 399, 491.3], titleY: 390.7, titleSize: 7.7, legendY: [424, 446, 467, 487] },
  { name: 'INSR', ligands: insrLigands, rmsd: [insrRmsdDiosgenin, insrRmsdLuteolin, insrRmsdKaempferol, insrRmsdRef],
    residue: insrResidue, rmsf: [insrRmsfDiosgenin, insrRmsfLuteolin, insrRmsfKaempferol, insrRmsfRef],
    rmsdY: [0, 0.6, 0.1], rmsfX: [0, 1400, 500], rmsfY: [0, 3, 0.5],
    left: [29.5, 268, 528.3, 620], right: [460, 696, 528.3, 620.7], titleY: 520, titleSize: 7.7, legendY: [547, 570, 590, 610] },
  { name: 'MAPK8', ligands: mapk8Ligands, rmsd: [mapk8RmsdDiosgenin, mapk8RmsdQuercetin, mapk8RmsdKaempferol, mapk8RmsdRef],
    residue: mapk8Residue, rmsf: [mapk8RmsfDiosgenin, mapk8RmsfQuercetin, mapk8RmsfKaempferol, mapk8RmsfRef],
    rmsdY: [0, 0.15, 0.05], rmsfX: [0, 350, 100], rmsfY: [0, 0.8, 0.2],
    left: [33, 269, 660, 749.7], right: [453, 694, 660.7, 751], titleY: 653, titleSize: 7.7, legendY: [683, 704, 725, 747] },
  { name: 'MMP9', ligands: mmp9Ligands, rmsd: [mmp9RmsdDiosgenin, mmp9RmsdLuteolin, mmp9RmsdQuercetin, mmp9RmsdRef],
    residue: mmp9Residue, rmsf: [mmp9RmsfDiosgenin, mmp9RmsfLuteolin, mmp9RmsfQuercetin, mmp9RmsfRef],
    rmsdY: [0, 0.25, 0.05], rmsfX: [0, 700, 200], rmsfY: [0, 3, 0.5],
    left: [36, 269, 789, 877.7], right: [458, 696, 787.5, 877.7], titleY: 782.7, titleSize: 7.7, legendY: [808, 829, 851, 872] },
  { name: 'PPARG', ligands: ppargLigands, rmsd: [ppargRmsdDiosgenin, ppargRmsdSitosterol, ppargRmsdLuteolin, ppargRmsdRef],
    residue: ppargResidue, rmsf: [ppargRmsfDiosgenin, ppargRmsfSitosterol, ppargRmsfLuteolin, ppargRmsfRef],
    rmsdY: [0, 0.25, 0.05], rmsfX: [220, 450, 50], rmsfY: [0, 0.73, 0.5],
    left: [32, 270, 914.7, 1005.7], right: [461, 699, 914.7, 1005.7], titleY: 909, titleSize: 7.7, legendY: [936, 957, 979, 1000] },
  { name: 'SLC2A4', ligands: slc2a4Ligands, rmsd: [slc2a4RmsdKaempferol, slc2a4RmsdLuteolin, slc2a4RmsdQuercetin, slc2a4RmsdRef],
    residue: slc2a4Residue, rmsf: [slc2a4RmsfKaempferol, slc2a4RmsfLuteolin, slc2a4RmsfQuercetin, slc2a4RmsfRef],
    rmsdY: [0, 0.25, 0.05], rmsfX: [52, 450, 100], rmsfY: [0, 0.5, 0.1],
    left: [32, 267, 1045.7, 1134], right: [460, 699, 1044, 1134], titleY: 1039, titleSize: 7.7, legendY: [1066, 1087, 1109, 1130] }
];

function axisStyle(box, isX, range, dtick, title) {
  return {
    domain: isX ? [px(box[0]), px(box[1])] : [py(box[3]), py(box[2])],
    range: range, dtick: dtick, tick0: 0,
    showline: true, mirror: 'ticks', linecolor: '#000', linewidth: 1,
    ticks: 'inside', ticklen: 4, tickwidth: 1, tickcolor: '#000',
    minor: { ticks: 'inside', ticklen: 2, tickcolor: '#000' },
    showgrid: false, zeroline: false, fixedrange: true,
    tickfont: { family: SERIF, size: 8, color: '#000' },
    title: title ? { text: title, font: { family: SERIF, size: 8, color: '#000' }, standoff: 0 } : undefined
  };
}

const traces = [];
const layout = {
  width: W, height: H,
  margin: { l: 0, r: 0, t: 0, b: 0 },
  paper_bgcolor: '#fff', plot_bgcolor: '#fff',
  showlegend: false,
  annotations: [], shapes: []
};

rows.forEach((row, r) => {
  const kL = 2 * r + 1, kR = 2 * r + 2;
  const ax = k => (k === 1 ? '' : String(k));

  layout['xaxis' + ax(kL)] = axisStyle(row.left, true, [0, 10], 2, 'Time (ns)');
  layout['yaxis' + ax(kL)] = axisStyle(row.left, false, [row.rmsdY[0], row.rmsdY[1]], row.rmsdY[2], 'RMSD (nm)');
  layout['xaxis' + ax(kR)] = axisStyle(row.right, true, [row.rmsfX[0], row.rmsfX[1]], row.rmsfX[2], 'Residue');
  layout['yaxis' + ax(kR)] = axisStyle(row.right, false, [row.rmsfY[0], row.rmsfY[1]], row.rmsfY[2], row.noRmsfTitle ? null : '(nm)');
  layout['xaxis' + ax(kL)].anchor = 'y' + ax(kL);
  layout['yaxis' + ax(kL)].anchor = 'x' + ax(kL);
  layout['xaxis' + ax(kR)].anchor = 'y' + ax(kR);
  layout['yaxis' + ax(kR)].anchor = 'x' + ax(kR);

  row.rmsd.forEach((vals, i) => {
    traces.push({ type: 'scatter', mode: 'lines', x: time, y: vals, name: row.ligands[i],
      xaxis: 'x' + ax(kL), yaxis: 'y' + ax(kL), line: { color: LINE_COLORS[i], width: 1 }, hoverinfo: 'skip' });
  });
  row.rmsf.forEach((vals, i) => {
    traces.push({ type: 'scatter', mode: 'lines', x: row.residue, y: vals, name: row.ligands[i],
      xaxis: 'x' + ax(kR), yaxis: 'y' + ax(kR), line: { color: LINE_COLORS[i], width: 1 }, hoverinfo: 'skip' });
  });

  // panel titles
  layout.annotations.push({
    text: row.name + '-backbone', xref: 'paper', yref: 'paper',
    x: px((row.left[0] + row.left[1]) / 2), y: py(row.titleY), xanchor: 'center', yanchor: 'middle',
    showarrow: false, font: { family: SERIF, size: row.titleSize, color: '#000' }
  });
  layout.annotations.push({
    text: 'RMSF', xref: 'paper', yref: 'paper',
    x: px((row.right[0] + row.right[1]) / 2), y: py(row.titleY), xanchor: 'center', yanchor: 'middle',
    showarrow: false, font: { family: SERIF, size: row.titleSize, color: '#000' }
  });

  // legend column: short line sample + coloured label
  row.ligands.forEach((label, i) => {
    const yc = row.legendY[i];
    layout.shapes.push({ type: 'line', xref: 'paper', yref: 'paper',
      x0: px(276), x1: px(311), y0: py(yc), y1: py(yc), line: { color: TEXT_COLORS[i], width: 1.3 } });
    layout.annotations.push({ text: label, xref: 'paper', yref: 'paper', align: 'left',
      x: px(311), y: py(yc), xanchor: 'left', yanchor: 'middle', showarrow: false,
      font: { family: SERIF, size: 15, color: TEXT_COLORS[i] } });
  });
});

// dotted row separators and outer frame
[130.5, 253.5, 383, 512, 641, 769, 898, 1027].forEach(y => {
  layout.shapes.push({ type: 'line', xref: 'paper', yref: 'paper',
    x0: px(4), x1: px(704), y0: py(y), y1: py(y), line: { color: '#555', width: 2, dash: 'dot' } });
});
layout.shapes.push({ type: 'rect', xref: 'paper', yref: 'paper',
  x0: px(3.5), x1: px(704.5), y0: py(1160.5), y1: py(2), line: { color: '#000', width: 2 } });

Plotly.newPlot('chart', traces, layout, { displayModeBar: false, staticPlot: true });
</script>
</body>
</html>
